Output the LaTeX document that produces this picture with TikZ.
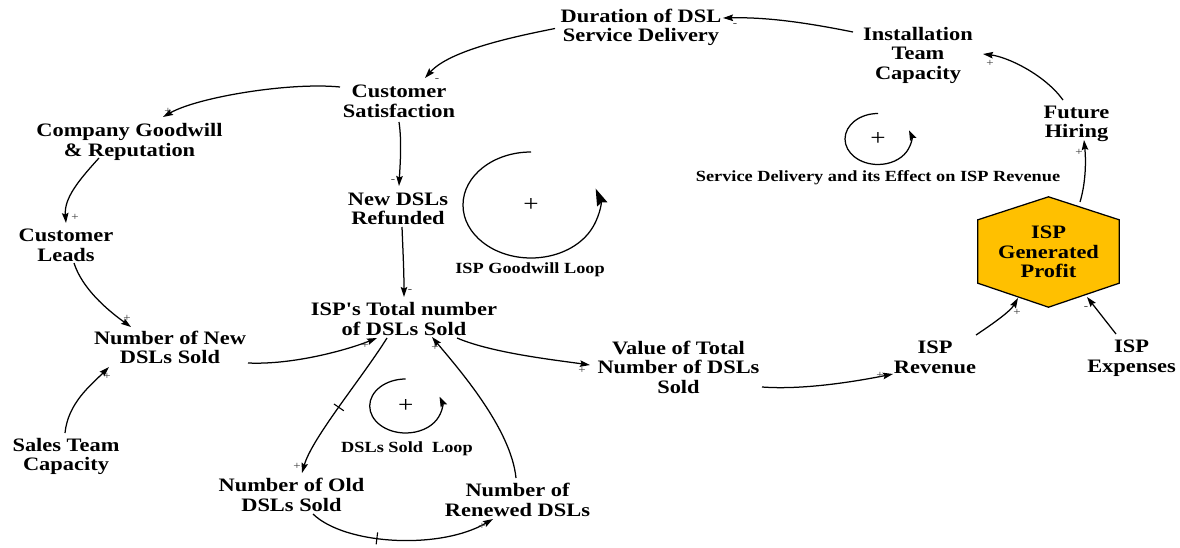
\documentclass[tikz,border=0pt]{standalone}
\usepackage{fontspec}
\setmainfont{Liberation Serif}[FakeStretch=1.18, Ligatures=TeXOff]
\usetikzlibrary{arrows.meta,backgrounds}
\definecolor{profitfill}{RGB}{255,192,0}
\definecolor{signgray}{RGB}{55,55,55}
\begin{document}
\begin{tikzpicture}[x=1pt,y=-1pt,
  var/.style={font=\fontsize{19}{19.5}\selectfont\bfseries, align=center, inner sep=0pt, anchor=north},
  looplabel/.style={font=\fontsize{15.5}{16}\selectfont\bfseries, inner sep=0pt, anchor=north},
  sgn/.style={font=\fontsize{11}{11}\selectfont, text=signgray, inner sep=0pt},
  loopsign/.style={font=\fontsize{23}{23}\selectfont, inner sep=0pt},
  link/.style={line width=1.25pt, -{Stealth[length=10pt,width=6.5pt,inset=1.5pt]}},
  looparc/.style={line width=1.25pt, -{Stealth[length=10pt,width=7pt,inset=1.5pt]}},
  delaymark/.style={sloped, inner sep=0pt, anchor=center}
]
\useasboundingbox (0,0) rectangle (1180,548);

% variables
\node[var] (dur)  at (641,8.5)    {Duration of DSL\\Service Delivery};
\node[var] (inst) at (918,26.7)   {Installation\\Team\\Capacity};
\node[var] (cs)   at (399,85)     {Customer\\Satisfaction};
\node[var] (cg)   at (129.5,123.5){Company Goodwill\\\& Reputation};
\node[var] (cl)   at (66,229)     {Customer\\Leads};
\node[var] (ndr)  at (398,192.5)  {New DSLs\\Refunded};
\node[var] (tot)  at (404,302.5)  {ISP's Total number\\of DSLs Sold};
\node[var] (nnew) at (170,330.5)  {Number of New\\DSLs Sold};
\node[var] (stc)  at (66,438)     {Sales Team\\Capacity};
\node[var] (old)  at (291.5,478)  {Number of Old\\DSLs Sold};
\node[var] (ren)  at (517.5,483)  {Number of\\Renewed DSLs};
\node[var] (val)  at (678.5,340.5){Value of Total\\Number of DSLs\\Sold};
\node[var] (rev)  at (935,341)    {ISP\\Revenue};
\node[var] (exp)  at (1131.5,340) {ISP\\Expenses};
\node[var] (fh)   at (1076.5,105.5){Future\\Hiring};
\node[var, anchor=center, minimum width=141pt, minimum height=110pt] (profit) at (1048.5,252) {ISP\\Generated\\Profit};

% hexagonal stock for profit
\begin{scope}[on background layer]
\draw[line width=1.25pt, fill=profitfill, line join=miter]
  (profit.north) -- ([yshift=-23pt]profit.north east) -- ([yshift=24pt]profit.south east)
  -- (profit.south) -- ([yshift=24pt]profit.south west) -- ([yshift=-23pt]profit.north west) -- cycle;
\end{scope}

% causal links
\draw[link] ([shift={(-65,5.3)}]inst.north) .. controls +(-45,-9) and +(45,-1) .. ([shift={(82,9.5)}]dur.north);
\draw[link] ([shift={(-86,20)}]dur.north) .. controls +(-40,8) and +(25,-28) .. ([shift={(26,-7)}]cs.north);
\draw[link] ([shift={(-59,2)}]cs.north) .. controls +(-50,-5) and +(35,-20) .. ([shift={(33.5,-6.5)}]cg.north);
\draw[link] ([shift={(-30.5,34.5)}]cg.north) .. controls +(-20,22) and +(-2,-25) .. ([shift={(0,-6)}]cl.north);
\draw[link] ([shift={(0,37)}]cs.north) .. controls +(3,20) and +(1,-20) .. ([shift={(1,-6.5)}]ndr.north);
\draw[link] ([shift={(4,34.5)}]ndr.north) .. controls +(1,25) and +(0,-25) .. ([shift={(0,-5.5)}]tot.north);
\draw[link] ([shift={(8,34)}]cl.north) .. controls +(8,25) and +(-25,-18) .. ([shift={(-39,-3.5)}]nnew.north);
\draw[link] ([shift={(-1,-5)}]stc.north) .. controls +(3,-30) and +(-18,18) .. ([shift={(-61,36.5)}]nnew.north);
\draw[link] ([shift={(78,32.5)}]nnew.north) .. controls +(45,2) and +(-30,12) .. ([shift={(-27,35.5)}]tot.north);
\draw[link] ([shift={(-17,35.5)}]tot.north) .. controls +(-25,40) and +(10,-35) .. ([shift={(10.5,-5)}]old.north)
  node[delaymark, pos=0.5] (d1) {\rule[-6pt]{1.1pt}{12pt}};
\draw[link] ([shift={(21.5,36)}]old.north) .. controls +(32,31) and +(-53,31) .. ([shift={(-24.5,36)}]ren.north)
  node[delaymark, pos=0.41] (d2) {\rule[-6pt]{1.1pt}{12pt}};
\draw[link] ([shift={(-1.5,-5)}]ren.north) .. controls +(-5,-50) and +(25,30) .. ([shift={(28,34.5)}]tot.north);
\draw[link] ([shift={(53,35.5)}]tot.north) .. controls +(35,15) and +(-35,-5) .. ([shift={(-88.5,24.5)}]val.north);
\draw[link] ([shift={(83.5,46.5)}]val.north) .. controls +(40,3) and +(-40,8) .. ([shift={(-42,33)}]rev.north);
\draw[link] ([shift={(41,-6)}]rev.north) .. controls +(12,-8) and +(-8,14) .. ([shift={(-30.5,46)}]profit.center);
\draw[link] ([shift={(-15.5,-6)}]exp.north) -- ([shift={(38.5,45)}]profit.center);
\draw[link] ([shift={(31.5,-50)}]profit.center) .. controls +(6,-20) and +(2,20) .. ([shift={(7.5,34.5)}]fh.north);
\draw[link] ([shift={(-13.5,-5.5)}]fh.north) .. controls +(-18,-25) and +(25,3) .. ([shift={(65,27.3)}]inst.north);

% link polarities
\node[sgn] (s1)  at (735,25)   {-};
\node[sgn] (s2)  at (437,80)   {-};
\node[sgn] (s3)  at (168,111)  {+};
\node[sgn] (s4)  at (75,217)   {+};
\node[sgn] (s5)  at (393,181)  {-};
\node[sgn] (s6)  at (410,291)  {-};
\node[sgn] (s7)  at (127,318)  {+};
\node[sgn] (s8)  at (107,376)  {+};
\node[sgn] (s9)  at (365,345)  {+};
\node[sgn] (s10) at (297,466)  {+};
\node[sgn] (s11) at (482,526)  {+};
\node[sgn] (s12) at (435,347)  {+};
\node[sgn] (s13) at (582,370)  {+};
\node[sgn] (s14) at (880,375)  {+};
\node[sgn] (s15) at (1017,312) {+};
\node[sgn] (s16) at (1086,308) {-};
\node[sgn] (s17) at (1079,152) {+};
\node[sgn] (s18) at (990,63)   {+};

% feedback loops
\node[loopsign] (gl) at (531,205) {+};
\draw[line width=1.25pt, -{Stealth[length=17pt,width=11pt,inset=2pt]}]
  ([yshift=53pt]gl.center) arc[start angle=90, end angle=378, x radius=68pt, y radius=53pt];
\node[looplabel] (gll) at (530,263) {ISP Goodwill Loop};

\node[loopsign] (sl) at (878,139) {+};
\draw[looparc] ([yshift=25.5pt]sl.center) arc[start angle=90, end angle=380, x radius=33pt, y radius=25.5pt];
\node[looplabel] (sll) at (878,170.5) {Service Delivery and its Effect on ISP Revenue};

\node[loopsign] (dl) at (405.7,406) {+};
\draw[looparc] ([yshift=27pt]dl.center) arc[start angle=90, end angle=380, x radius=36pt, y radius=27pt];
\node[looplabel] (dll) at (407,442) {DSLs Sold\ \ Loop};
\end{tikzpicture}
\end{document}
